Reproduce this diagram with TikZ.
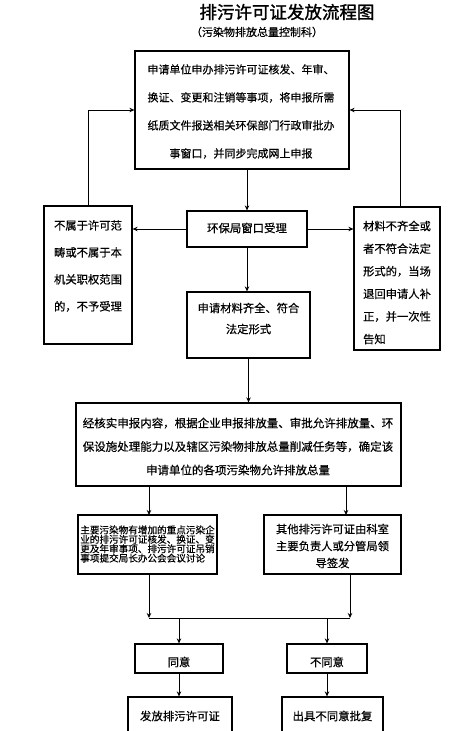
\documentclass[tikz,border=0pt]{standalone}
\usepackage{fontspec}
\setmainfont{Noto Sans CJK SC}[FakeBold=0.5]
\newfontfamily\titlefont{Noto Sans CJK SC}[FakeBold=1.5]
\usetikzlibrary{arrows.meta,calc}
\begin{document}
\begin{tikzpicture}[x=1pt,y=-1pt,
  box/.style={draw, line width=1.2pt, inner sep=0pt},
  arr/.style={line width=0.9pt, -{Stealth[length=5pt,width=4.5pt]}},
  ln/.style={line width=0.9pt},
  txt/.style={inner sep=0pt, align=center}]
\useasboundingbox (0,0) rectangle (476,731);
\clip (0,0) rectangle (476,731);
% title
\node[txt, font=\titlefont\fontsize{17.5}{20}\selectfont] (title) at (287,12) {排污许可证发放流程图};
\node[txt, font=\fontsize{11}{13}\selectfont] (subtitle) at (257,32) {（污染物排放总量控制科）};
% boxes
\node[box, minimum width=214pt, minimum height=118pt] (top) at (242,110) {};
\node[box, minimum width=88pt, minimum height=138pt] (left) at (88,275) {};
\node[box, minimum width=120pt, minimum height=36pt] (win) at (247,229) {};
\node[box, minimum width=86pt, minimum height=143pt] (right) at (397,278.5) {};
\node[box, minimum width=123pt, minimum height=66pt] (app) at (248.5,325) {};
\node[box, minimum width=325pt, minimum height=83pt] (big) at (238.5,444.5) {};
\node[box, minimum width=139pt, minimum height=59pt] (bl) at (147.5,544.5) {};
\node[box, minimum width=137pt, minimum height=59pt] (br) at (332.5,544.5) {};
\node[box, minimum width=88pt, minimum height=29pt] (agree) at (179,658.5) {};
\node[box, minimum width=80pt, minimum height=29pt] (dis) at (327,658.5) {};
\node[box, minimum width=104pt, minimum height=48pt] (issue) at (180,721) {};
\node[box, minimum width=101pt, minimum height=48pt] (reject) at (332.5,721) {};
% texts
\node[txt, font=\fontsize{11}{28}\selectfont] (toptxt) at (241,111.5)
  {申请单位申办排污许可证核发、年审、\\换证、变更和注销等事项，将申报所需\\纸质文件报送相关环保部门行政审批办\\事窗口，并同步完成网上申报};
\node[txt, font=\fontsize{11.3}{27}\selectfont] (lefttxt) at (88,266)
  {不属于许可范\\畴或不属于本\\机关职权范围\\的，不予受理};
\node[txt, align=left, font=\fontsize{11.3}{22.6}\selectfont] (righttxt) at (397,282.5)
  {材料不齐全或\\者不符合法定\\形式的，当场\\退回申请人补\\正，并一次性\\告知};
\node[txt, font=\fontsize{11.4}{13}\selectfont] (wintxt) at (247,228) {环保局窗口受理};
\node[txt, font=\fontsize{11.3}{21}\selectfont] (apptxt) at (248.5,318.5) {申请材料齐全、符合\\法定形式};
\node[txt, font=\fontsize{11.5}{23.5}\selectfont] (bigtxt) at (238,446.5)
  {经核实申报内容，根据企业申报排放量、审批允许排放量、环\\保设施处理能力以及辖区污染物排放总量削减任务等，确定该\\申请单位的各项污染物允许排放总量};
\node[txt, align=left, font=\fontsize{9.6}{9.4}\selectfont] (bltxt) at (147.5,544)
  {主要污染物有增加的重点污染企\\业的排污许可证核发、换证、变\\更及年审事项、排污许可证吊销\\事项提交局长办公会会议讨论};
\node[txt, font=\fontsize{11.3}{17}\selectfont] (brtxt) at (332.5,546)
  {其他排污许可证由科室\\主要负责人或分管局领\\导签发};
\node[txt, font=\fontsize{11.3}{13}\selectfont] (agreetxt) at (179,662) {同意};
\node[txt, font=\fontsize{11.3}{13}\selectfont] (distxt) at (327,662) {不同意};
\node[txt, font=\fontsize{11.4}{13}\selectfont] (issuetxt) at (180,716) {发放排污许可证};
\node[txt, font=\fontsize{11.4}{13}\selectfont] (rejecttxt) at (332.5,716) {出具不同意批复};
% connectors
\coordinate (rloop) at (400,207);
\coordinate (blin) at (149,515);
\coordinate (brin) at (346,515);
\coordinate (mL) at (149,618);
\coordinate (mR) at (350,618);
\draw[arr] (win.north |- top.south) -- (win.north);
\draw[arr] (win.west) -- (win.west -| left.east);
\draw[arr] (win.east) -- (win.east -| right.west);
\draw[arr] (win.south) -- (win.south |- app.north);
\draw[arr] (left.north) |- (top.west);
\draw[arr] (rloop) |- (top.east);
\draw[arr] (app.south) -- (app.south |- big.north);
\draw[arr] (blin |- big.south) -- (blin);
\draw[arr] (brin |- big.south) -- (brin);
\draw[arr] (mL |- bl.south) -- (mL);
\draw[arr] (mR |- br.south) -- (mR);
\draw[ln] (mL) -- (mR);
\draw[arr] (agree.north |- mL) -- (agree.north);
\draw[arr] (dis.north |- mL) -- (dis.north);
\draw[arr] (agree.south) -- (agree.south |- issue.north);
\draw[arr] (dis.south) -- (dis.south |- reject.north);
\end{tikzpicture}
\end{document}
